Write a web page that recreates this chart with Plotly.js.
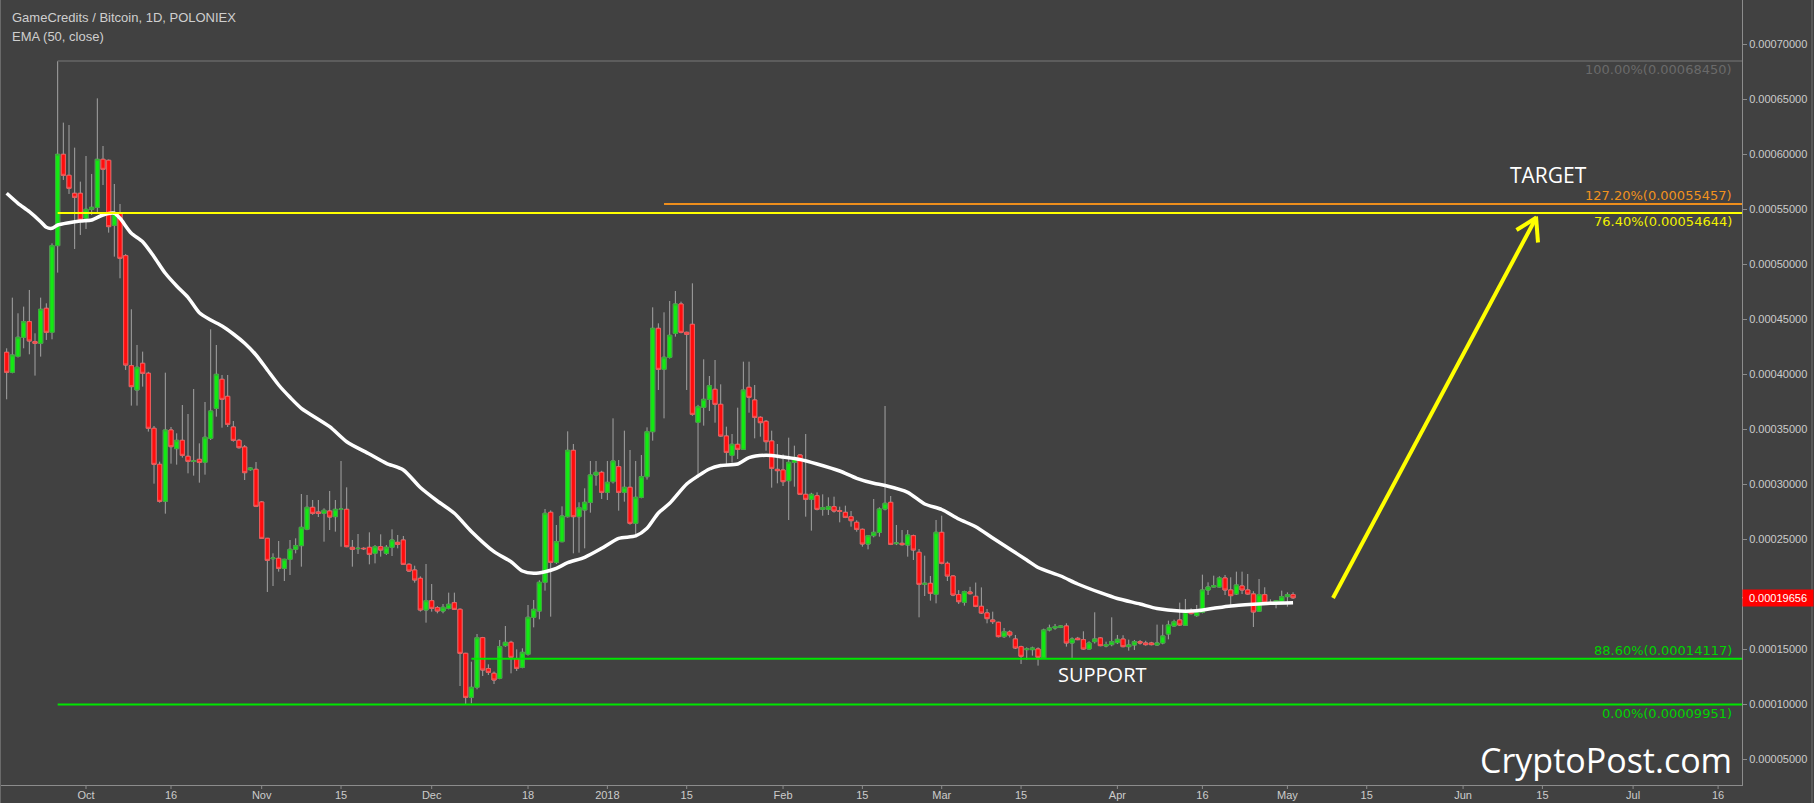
<!DOCTYPE html>
<html>
<head>
<meta charset="utf-8">
<script src="https://cdn.plot.ly/plotly-3.0.1.min.js"></script>
<style>
html,body{margin:0;padding:0;background:#414141;}
#chart{width:1814px;height:803px;}
</style>
</head>
<body>
<div id="chart"></div>
<script>
// ---- DATA (prices in satoshi, 1e-8 BTC) ----
const firstCandleDate = '2017-09-17';

const openSat = [
 41973,40155,41600,43336,44760,42943,42791,45972,43790,51669,59971,58062,56426,56426,
 54153,54971,55153,59516,59425,53517,54668,50760,40761,38549,40973,40064,35060,31788,28424,34909,33212,33970,32515,32060,32242,31970,34151,36879,39515,37970,35182,33970,33364,31303,31333,
 28364,25061,23212,23242,22333,23151,24060,24394,25879,27879,27455,27333,27545,27030,27697,27697,24242,24121,24151,24242,23697,24303,23697,24242,24697,24909,22697,22182,21424,18546,
 19394,18758,18455,18697,19212,18606,14606,10606,11516,16031,13213,12788,12334,15304,15607,14092,13334,14516,17880,18455,21061,27425,22880,24758,27031,33061,27031,27637,28334,30819,31061,
 29243,30213,31576,29243,29698,26425,28789,30667,34758,44152,40425,41516,43698,46364,43789,44516,35607,36970,37697,38606,37242,34363,32606,33606,33151,38788,37636,36060,35697,33909,31333,
 31272,30303,31969,32636,29060,28606,28939,27697,27697,27939,27575,27424,27030,26515,25878,24545,25303,25606,27727,28333,24575,24606,24454,25303,23787,20878,20969,19969,
 25606,22787,21636,19950,19250,20180,19790,18880,18280,17638,17426,16123,16547,15911,15214,14941,14941,15002,14183,16729,16911,16971,17093,15547,15971,15850,15002,15668,16002,15274,15396,
 15577,15900,15214,15365,15668,15547,15547,15365,15547,16365,17093,17638,17153,18396,18032,18335,20365,20638,20638,21456,20365,20002,20729,20365,20002,18426,19941,19244,19214,19335,
 19759,19941
];
const highSat = [
 42336,46942,45518,46124,47639,43700,46942,46427,51880,68450,62850,62637,60577,57486,
 59819,58183,65061,60728,59500,57274,55456,50900,45882,42639,42033,40200,35273,32030,40121,35182,34606,37182,36364,38636,33697,37454,44060,42636,39909,39909,35727,34100,33545,31500,32000,
 28455,25100,23697,24818,23200,24909,25061,29091,29000,28545,28545,27788,29364,28545,32090,29697,24909,25454,24250,25606,24450,25424,24450,25879,25364,25273,22800,22576,21600,22728,
 20909,18900,19091,20122,20122,18700,14650,13849,16364,16100,13606,12950,15819,17091,15750,14970,15061,19000,19455,21250,27728,27600,26273,27970,34788,33637,28334,29607,32092,32092,31200,
 32092,35970,32182,34849,33091,32092,32637,35152,46061,44607,45607,46637,47546,46576,43850,48243,37200,41334,39818,41272,39060,35212,34545,36939,41121,41121,38999,36150,35818,34848,33636,
 32697,34212,33484,32700,34545,29200,29242,29060,28788,28848,27939,28030,27545,26700,25950,25350,28636,27878,37090,28909,26272,25818,25818,25400,24090,23484,21636,26727,
 27121,22950,21700,20350,20300,20650,21040,20600,18638,18395,17480,16911,16700,16274,15300,15150,15214,15150,16850,17214,17274,17150,17335,16062,16100,16608,15700,18335,16060,15668,17880,
 16274,16250,15850,15820,15820,15750,15650,17214,17214,17577,17668,19214,19547,18699,19002,21759,21062,21668,21608,21729,21517,22032,22032,21820,20250,21365,20608,19517,19450,20305,
 20150,20153
];
const lowSat = [
 37700,40064,41500,42336,41791,39852,41579,43094,43154,49214,57638,56365,51366,52638,
 53184,54456,54608,57183,52850,50669,48699,40367,37124,37124,38852,34762,30030,28300,27303,31848,31758,32400,30970,30757,30121,30848,34000,36121,35121,35182,33848,33212,30363,31200,27900,
 25000,20182,20727,22030,21182,21727,23697,22485,25800,27200,27000,24757,25818,25666,24303,24250,22485,23636,24000,22697,22788,23394,23550,23454,24151,22650,22000,21030,18400,17394,
 18394,18243,18250,18600,18550,11637,9951,10061,11334,12546,12637,11819,12250,15200,12788,13000,13250,14400,16970,17698,20304,17940,22728,24700,26950,23697,23758,24152,27394,29850,28637,
 28546,30050,27576,28394,26300,25213,28700,30400,33940,38546,35970,41400,43395,43700,38546,36200,30909,35303,36636,35575,34300,31667,31939,32272,33100,36485,34151,34303,33030,29666,30060,
 29818,26727,29757,29000,27030,25757,27600,27121,27182,27400,26515,26900,26121,25666,24303,24060,25151,25212,27600,24450,24450,24400,23393,23090,17878,19818,19393,19151,
 22700,21181,19800,19092,18941,19950,18800,18183,17335,17274,16050,16002,16050,15000,13638,14032,14396,13487,14120,16600,16750,16900,15214,14183,15800,14950,14950,15500,15250,15150,15250,
 15450,15150,14850,14911,15400,15300,15330,15300,15426,15880,17030,17100,17100,18130,17930,18240,19911,20600,20600,19911,18789,19910,20000,19940,17002,18365,19090,19030,18699,19270,
 18850,19550
];
const closeSat = [
 40155,41730,43336,44760,43003,42791,45882,43790,51669,59971,58062,56880,56062,54002,
 54971,55153,59516,58607,53396,54668,50517,40821,38852,40609,40064,35065,31788,28424,34909,33394,33970,32606,32060,32090,31970,34242,36636,39970,37697,35424,33970,33303,31030,31454,27970,
 25061,23061,23273,22333,23151,24060,24394,26060,27879,27333,27333,27606,27000,27697,27720,24303,24060,24151,24121,23606,24303,24000,24242,24909,24515,22697,22091,21273,18546,19394,
 18697,18455,18788,19061,18606,14606,10606,11516,16031,13091,12879,12182,15213,15607,14243,13243,14697,17880,18606,21061,27334,22880,24758,27091,33061,27031,27849,28334,30819,31061,29243,
 30152,32092,29243,29698,26425,28789,30667,34758,44152,40425,41516,43516,46364,43789,43607,36334,37031,37697,38939,37242,34363,32878,33606,33151,38545,37878,36060,35575,33848,31424,31212,
 30212,31969,32424,29060,28606,29060,27697,27848,27939,27545,27515,26969,26666,25878,24545,25303,25606,27727,28242,24515,24636,24484,25363,23999,20878,20969,20060,25606,
 22787,21636,19909,19300,20214,20030,18880,18270,17760,17486,16123,16577,16274,15092,14335,15002,15092,14244,16729,16911,17032,17093,15547,15911,15850,15002,15547,15911,15305,15396,15668,
 15880,15214,15365,15668,15547,15396,15396,15547,16183,17183,17486,17183,18365,18214,18396,20365,20638,20759,21456,20365,19850,20820,20365,20002,18365,19941,19244,19093,19396,19759,
 19941,19656
];

// EMA(50, close)
const emaDates = [
 '2017-09-17','2017-09-19','2017-09-21','2017-09-23','2017-09-24','2017-09-25','2017-09-26','2017-09-28','2017-09-30',
 '2017-10-02','2017-10-04','2017-10-06','2017-10-07','2017-10-09','2017-10-11','2017-10-13','2017-10-15','2017-10-17','2017-10-19','2017-10-21','2017-10-23','2017-10-25','2017-10-27','2017-10-29','2017-10-31',
 '2017-11-02','2017-11-04','2017-11-06','2017-11-08','2017-11-13','2017-11-16','2017-11-20','2017-11-23','2017-11-26','2017-11-29',
 '2017-12-02','2017-12-05','2017-12-08','2017-12-12','2017-12-15','2017-12-17','2017-12-19','2017-12-21','2017-12-23','2017-12-25','2017-12-28','2017-12-31',
 '2018-01-03','2018-01-06','2018-01-08','2018-01-10','2018-01-12','2018-01-15','2018-01-17','2018-01-19','2018-01-21','2018-01-24','2018-01-26','2018-01-29',
 '2018-02-01','2018-02-04','2018-02-07','2018-02-11','2018-02-14','2018-02-17','2018-02-19','2018-02-23','2018-02-26',
 '2018-03-01','2018-03-04','2018-03-07','2018-03-10','2018-03-13','2018-03-16','2018-03-18','2018-03-22','2018-03-25','2018-03-29',
 '2018-04-01','2018-04-05','2018-04-08','2018-04-12','2018-04-15','2018-04-18','2018-04-21','2018-04-25','2018-04-28','2018-05-02'
];
const emaSat = [
 56427,55518,54755,53845,53336,53245,53545,53755,53909,
 54000,54455,54609,54155,52791,52027,50664,49155,48000,46973,45573,44909,44364,43636,42791,41727,
 40364,39000,37882,36882,35209,33845,32727,31882,31273,29682,
 28455,27336,25682,23845,22936,22091,21882,22027,22336,22845,23336,24155,
 25064,25273,25973,27364,28245,30000,30727,31364,31682,31818,32391,32609,
 32455,32227,31818,31182,30518,30064,29864,29245,28182,
 27682,26818,26118,25091,24091,23091,22409,21636,20909,20118,
 19591,19091,18682,18455,18482,18700,18909,19064,19155,19209
];

const xTickDates = ['2017-10-01','2017-10-16','2017-11-01','2017-11-15','2017-12-01','2017-12-18','2018-01-01','2018-01-15','2018-02-01','2018-02-15','2018-03-01','2018-03-15','2018-04-01','2018-04-16','2018-05-01','2018-05-15','2018-06-01','2018-06-15','2018-07-01','2018-07-16'];
const xTickText  = ['Oct','16','Nov','15','Dec','18','2018','15','Feb','15','Mar','15','Apr','16','May','15','Jun','15','Jul','16'];
const yTickVals  = [0.00005,0.0001,0.00015,0.00025,0.0003,0.00035,0.0004,0.00045,0.0005,0.00055,0.0006,0.00065,0.0007];

const fibValues  = [0.00068450, 0.00055457, 0.00054644, 0.00014117, 0.00009951];
const fibLabels  = ['100.00%(0.00068450)','127.20%(0.00055457)','76.40%(0.00054644)','88.60%(0.00014117)','0.00%(0.00009951)'];
const fibStarts  = ['2017-09-26','2018-01-11','2017-09-26','2017-12-08','2017-09-26'];
const lastPrice  = 0.00019656;

// ---- BUILD ----
const sat = v => v * 1e-8;
const O = openSat.map(sat), H = highSat.map(sat), L = lowSat.map(sat), C = closeSat.map(sat);
const dates = [];
(function(){
  const p = firstCandleDate.split('-').map(Number);
  const d0 = Date.UTC(p[0], p[1]-1, p[2]);
  for (let i = 0; i < O.length; i++) dates.push(new Date(d0 + i*86400000).toISOString().slice(0,10));
})();

const X_START = '2017-09-16 00:00';
const X_END = '2018-07-20 05:17';
const tStart = Date.parse('2017-09-16T00:00:00Z'), tEnd = Date.parse('2018-07-20T05:17:00Z');
const dateFrac = d => (Date.parse(d + 'T00:00:00Z') - tStart) / (tEnd - tStart);

const fibColors = ['#5c5c5c','#ee8e1c','#ffff00','#00e600','#00e600'];
const fibTextColors = ['#6a6a6a','#f0921e','#f2f200','#00d400','#00d400'];
const fibAnchor = ['top','bottom','top','bottom','top'];

const emaTrace = {
  type:'scatter', mode:'lines', x: emaDates, y: emaSat.map(sat),
  line:{color:'#ffffff', width:3.5, shape:'spline', smoothing:0.7},
  hoverinfo:'skip', showlegend:false
};
const wickTrace = {
  type:'candlestick', x: dates, open: O, high: H, low: L, close: C,
  increasing:{line:{color:'#a3a3a3', width:1}, fillcolor:'rgba(0,0,0,0)'},
  decreasing:{line:{color:'#a3a3a3', width:1}, fillcolor:'rgba(0,0,0,0)'},
  whiskerwidth:0, hoverinfo:'skip', showlegend:false
};
const bodyTrace = {
  type:'candlestick', x: dates, open: O, close: C,
  high: O.map((o,i)=>Math.max(o, C[i])), low: O.map((o,i)=>Math.min(o, C[i])),
  increasing:{line:{color:'#3aa93a', width:1}, fillcolor:'#12ea12'},
  decreasing:{line:{color:'#f05858', width:1}, fillcolor:'#ff0d0d'},
  whiskerwidth:0, hoverinfo:'skip', showlegend:false
};

const PW = 1741, PH = 785; // plot area in px
const px = x => (x - 1) / PW;
const py = y => (PH - y) / PH;

const shapes = [];
fibValues.forEach((v,i) => {
  shapes.push({type:'line', xref:'x', yref:'y', x0: fibStarts[i], x1: X_END, y0: v, y1: v,
               line:{color: fibColors[i], width: 2}});
});
// arrow (annotation drawing)
const arrowLine = {color:'#ffff00', width:4};
shapes.push({type:'line', xref:'paper', yref:'paper', x0: px(1333), y0: py(598), x1: px(1536), y1: py(218), line: arrowLine});
shapes.push({type:'line', xref:'paper', yref:'paper', x0: px(1516.5), y0: py(230), x1: px(1536.5), y1: py(217.5), line: arrowLine});
shapes.push({type:'line', xref:'paper', yref:'paper', x0: px(1538), y0: py(242.5), x1: px(1536), y1: py(216.5), line: arrowLine});
// frame lines
shapes.push({type:'line', xref:'paper', yref:'paper', x0: px(1812), x1: px(1812), y0: py(803), y1: 1, line:{color:'#707070', width:1}});
shapes.push({type:'line', xref:'paper', yref:'paper', x0: px(0.5), x1: px(0.5), y0: py(803), y1: 1, line:{color:'#6a6a6a', width:1}});
// x tick marks (drawn below the axis line)
xTickDates.forEach(d => {
  shapes.push({type:'line', xref:'paper', yref:'paper', x0: dateFrac(d), x1: dateFrac(d), y0: 0, y1: -4/PH,
               line:{color:'#8c8c8c', width:1}});
});
// tick on last price label
shapes.push({type:'line', xref:'paper', yref:'y', x0: 1, x1: px(1747), y0: lastPrice, y1: lastPrice, line:{color:'#ffffff', width:1}});

const annotations = [];
fibValues.forEach((v,i) => {
  annotations.push({xref:'paper', yref:'y', x: px(1733), y: v, xanchor:'right', yanchor: fibAnchor[i],
    text: fibLabels[i], showarrow:false, borderpad:0,
    font:{family:'DejaVu Sans, Verdana, sans-serif', size:13, color: fibTextColors[i]}});
});
annotations.push({xref:'paper', yref:'paper', x: px(10), y: py(18), xanchor:'left', yanchor:'middle',
  text:'GameCredits / Bitcoin, 1D, POLONIEX', showarrow:false,
  font:{family:'Liberation Sans, Arial, sans-serif', size:13, color:'#cfcfcf'}});
annotations.push({xref:'paper', yref:'paper', x: px(10), y: py(37), xanchor:'left', yanchor:'middle',
  text:'EMA (50, close)', showarrow:false,
  font:{family:'Liberation Sans, Arial, sans-serif', size:13, color:'#cfcfcf'}});
annotations.push({xref:'paper', yref:'paper', x: px(1548), y: py(175), xanchor:'center', yanchor:'middle',
  text:'TARGET', showarrow:false, font:{family:'Open Sans, sans-serif', size:21, color:'#ffffff'}});
annotations.push({xref:'paper', yref:'paper', x: px(1102), y: py(674), xanchor:'center', yanchor:'middle',
  text:'SUPPORT', showarrow:false, font:{family:'Open Sans, sans-serif', size:20, color:'#ffffff'}});
annotations.push({xref:'paper', yref:'paper', x: px(1606), y: py(760), xanchor:'center', yanchor:'middle',
  text:'CryptoPost.com', showarrow:false, font:{family:'Open Sans, sans-serif', size:34, color:'#ffffff'}});
annotations.push({xref:'paper', yref:'y', x: 1, y: lastPrice, xanchor:'left', yanchor:'middle',
  text: lastPrice.toFixed(8), showarrow:false, bgcolor:'#ff0000', width:66, height:12, borderpad:2, align:'center',
  font:{family:'Liberation Sans, Arial, sans-serif', size:11, color:'#ffffff'}});

const axisFont = {family:'Liberation Sans, Arial, sans-serif', size:11, color:'#cccccc'};
const layout = {
  width:1814, height:803,
  margin:{l:1, r:72, t:0, b:18, pad:0},
  paper_bgcolor:'#414141', plot_bgcolor:'#414141',
  showlegend:false, hovermode:false,
  boxgap:0.15, boxgroupgap:0.15,
  xaxis:{type:'date', range:[X_START, X_END], rangeslider:{visible:false},
    showgrid:false, zeroline:false, showline:true, linecolor:'#8c8c8c', linewidth:1,
    ticks:'', tickmode:'array',
    tickvals:xTickDates, ticktext:xTickText, tickfont:axisFont, fixedrange:true},
  yaxis:{side:'right', range:[0.00002636, 0.00074], showgrid:false, zeroline:false,
    showline:true, linecolor:'#8c8c8c', linewidth:1, ticks:'outside', ticklen:4, tickcolor:'#8c8c8c',
    tickmode:'array', tickvals:yTickVals, ticktext:yTickVals.map(v=>v.toFixed(8)), tickfont:axisFont, fixedrange:true},
  shapes: shapes,
  annotations: annotations
};

Plotly.newPlot('chart', [emaTrace, wickTrace, bodyTrace], layout, {staticPlot:true, displayModeBar:false});
</script>
</body>
</html>
